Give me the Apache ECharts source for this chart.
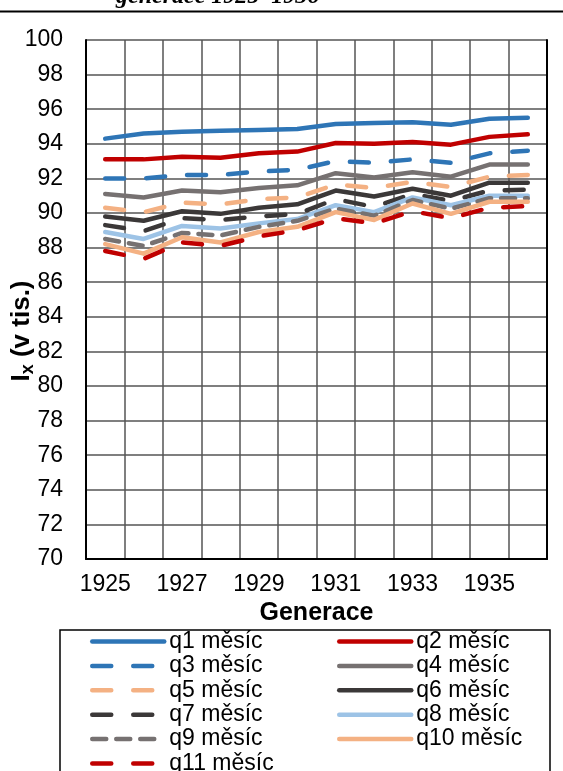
<!DOCTYPE html>
<html>
<head>
<meta charset="utf-8">
<style>
html,body{margin:0;padding:0;background:#fff;}
#chart{width:563px;height:771px;}
</style>
<script src="https://cdn.jsdelivr.net/npm/echarts@6/dist/echarts.min.js"></script>
</head>
<body>
<div id="chart"></div>
<script>
const years = ['1925','1926','1927','1928','1929','1930','1931','1932','1933','1934','1935','1936'];
const q1  = [94.3, 94.6, 94.7, 94.75, 94.8, 94.85, 95.15, 95.2, 95.25, 95.1, 95.45, 95.5];
const q2  = [93.1, 93.1, 93.25, 93.2, 93.45, 93.55, 94.05, 94.0, 94.1, 93.95, 94.4, 94.55];
const q3  = [92.0, 92.0, 92.2, 92.2, 92.4, 92.5, 93.0, 92.9, 93.1, 92.9, 93.45, 93.6];
const q4  = [91.1, 90.9, 91.3, 91.2, 91.45, 91.6, 92.3, 92.05, 92.35, 92.1, 92.8, 92.8];
const q5  = [90.3, 90.05, 90.6, 90.5, 90.8, 90.9, 91.65, 91.45, 91.8, 91.5, 92.1, 92.2];
const q6  = [89.8, 89.55, 90.1, 89.95, 90.3, 90.5, 91.3, 90.95, 91.4, 91.0, 91.75, 91.75];
const q7  = [89.3, 88.95, 89.7, 89.6, 89.8, 89.95, 90.8, 90.35, 91.1, 90.7, 91.3, 91.35];
const q8  = [88.9, 88.5, 89.25, 89.1, 89.4, 89.65, 90.45, 90.05, 90.9, 90.45, 91.0, 91.0];
const q9  = [88.5, 88.1, 88.85, 88.7, 89.2, 89.55, 90.25, 89.85, 90.75, 90.25, 90.85, 90.85];
const q10 = [88.2, 87.65, 88.6, 88.3, 88.9, 89.2, 90.05, 89.6, 90.55, 89.95, 90.65, 90.65];
const q11 = [87.8, 87.35, 88.3, 88.1, 88.65, 89.0, 89.7, 89.4, 90.1, 89.7, 90.3, 90.4];
const seriesNames = ['q1 měsíc','q2 měsíc','q3 měsíc','q4 měsíc','q5 měsíc','q6 měsíc','q7 měsíc','q8 měsíc','q9 měsíc','q10 měsíc','q11 měsíc'];
const seriesData = [q1,q2,q3,q4,q5,q6,q7,q8,q9,q10,q11];
const colors = ['#2E75B6','#C00000','#2E75B6','#767171','#F4B183','#3B3838','#3B3838','#9DC3E6','#767171','#F4B183','#C00000'];
const dashes = ['solid','solid',[19,22],'solid',[19,22],'solid',[19,22],'solid',[14,10],'solid',[19,22]];
const titleText = 'generace 1925–1936';
const xName = 'Generace';

const FONT = '"Liberation Sans", Arial, sans-serif';
const chart = echarts.init(document.getElementById('chart'), null, {renderer:'canvas'});

const series = seriesNames.map((n,i)=>({
  name: n,
  type: 'line',
  data: seriesData[i],
  symbol: 'none',
  showSymbol: false,
  smooth: false,
  animation: false,
  yAxisIndex: 0,
  lineStyle: {color: colors[i], width: 4.5, type: dashes[i], cap: 'round', join: 'round'},
  itemStyle: {color: colors[i]}
}));

const legendCommon = {
  orient: 'vertical',
  itemWidth: 72,
  itemHeight: 14,
  itemGap: 1.4,
  itemTextGap: 5,
  padding: 0,
  height: 200,
  textStyle: {fontFamily: FONT, fontSize: 23, color: '#000', lineHeight: 23},
  lineStyle: {width: 4.5, cap: 'round'},
  itemStyle: {opacity: 0, borderWidth: 0}
};

const col1 = [seriesNames[0], seriesNames[2], seriesNames[4], seriesNames[6], seriesNames[8]];
const col2 = [seriesNames[1], seriesNames[3], seriesNames[5], seriesNames[7], seriesNames[9]];
const col3 = [seriesNames[10]];

chart.setOption({
  backgroundColor: '#fff',
  animation: false,
  grid: {left: 86, right: 16, top: 40, bottom: 212, containLabel: false},
  xAxis: {
    type: 'category',
    data: years,
    boundaryGap: true,
    axisLine: {show: true, lineStyle: {color: '#000', width: 2}},
    axisTick: {show: false},
    axisLabel: {interval: 1, margin: 14, fontFamily: FONT, fontSize: 23, color: '#000'},
    splitLine: {show: true, interval: 0, lineStyle: {color: '#555', width: 1.5}},
    name: xName,
    nameLocation: 'middle',
    nameGap: 39,
    nameTextStyle: {fontFamily: FONT, fontSize: 25, fontWeight: 'bold', color: '#000'}
  },
  yAxis: [{
    type: 'value',
    min: 70, max: 100, interval: 2,
    axisLine: {show: true, lineStyle: {color: '#000', width: 2}},
    axisTick: {show: false},
    axisLabel: {margin: 23, fontFamily: FONT, fontSize: 23, color: '#000'},
    splitLine: {show: true, lineStyle: {color: '#555', width: 1.5}}
  },{
    type: 'value',
    position: 'right',
    min: 70, max: 100, interval: 2,
    axisLine: {show: true, lineStyle: {color: '#000', width: 2}},
    axisTick: {show: false},
    axisLabel: {show: false},
    splitLine: {show: false}
  }],
  legend: [
    Object.assign({}, legendCommon, {left: 90, top: 630, data: col1}),
    Object.assign({}, legendCommon, {left: 337, top: 630, data: col2}),
    Object.assign({}, legendCommon, {left: 90, top: 752, data: col3})
  ],
  graphic: [
    {type: 'text', left: 116, top: -15, style: {text: titleText, font: 'italic bold 24px "Liberation Serif", "Times New Roman", serif', fill: '#000'}},
    {type: 'line', shape: {x1: 0, y1: 11.5, x2: 563, y2: 11.5}, style: {stroke: '#000', lineWidth: 2}},
    {type: 'rect', shape: {x: 60, y: 630, width: 490, height: 170}, style: {fill: 'none', stroke: '#000', lineWidth: 1.5}, z: 0},
    {type: 'text', x: 22, y: 331, rotation: Math.PI/2,
      style: {
        text: '{b|I}{s|x}{b| (v tis.)}',
        align: 'center', verticalAlign: 'middle',
        rich: {
          b: {fontFamily: FONT, fontSize: 26, fontWeight: 'bold', fill: '#000', lineHeight: 30, verticalAlign: 'middle'},
          s: {fontFamily: FONT, fontSize: 18, fontWeight: 'bold', fill: '#000', lineHeight: 30, verticalAlign: 'bottom'}
        }
      }}
  ],
  series: series
});
</script>
</body>
</html>
